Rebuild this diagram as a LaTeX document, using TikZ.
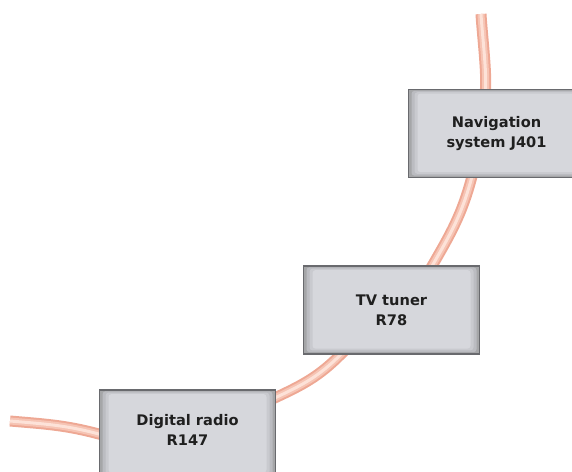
\documentclass[tikz,border=0pt]{standalone}
\usepackage{fontspec}
\setmainfont{DejaVu Sans}
\usetikzlibrary{positioning, calc, backgrounds}

\definecolor{cableout}{RGB}{238,168,148}
\definecolor{cablemid}{RGB}{246,196,180}
\definecolor{cablecore}{RGB}{253,226,216}
\definecolor{boxrim}{RGB}{105,106,110}
\definecolor{boxface}{RGB}{214,215,220}

\begin{document}
\begin{tikzpicture}[x=1pt, y=1pt,
        unit/.style={draw=boxrim, line width=1.5pt, fill=boxrim!60, minimum width=176pt, minimum height=88pt,
            inner sep=0pt, align=center, text=black!88, font=\fontsize{14.6}{20}\selectfont\bfseries,
            path picture={\foreach \d/\m in {3/75, 6/88, 9/100}
                \fill[boxface!\m!boxrim, rounded corners=3pt]
                    ([shift={(\d,0.6*\d)}]path picture bounding box.south west) rectangle
                    ([shift={(-\d,-0.45*\d)}]path picture bounding box.north east);}}]
        \useasboundingbox (0,0) rectangle (572,471);
        \node[unit, text depth=8pt] (radio) at (187.5,37) {Digital radio\\R147};
        \node[unit, above right=34.5pt and 26.5pt of radio] (tv) {TV tuner\\R78};
        \node[unit, above=87pt of tv, xshift=105pt] (nav) {Navigation\\system J401};
        \coordinate (cabtop) at (481,457);
        \coordinate (cabend) at (10,50);
        \begin{scope}[on background layer]
        \foreach \w/\c in {11/cableout, 7/cablemid, 3/cablecore}
            \draw[line width=\w pt, \c] (cabtop) to[out=-87, in=86, looseness=0.6] ([xshift=-11pt]nav.north)
                to[out=-94, in=75] ([xshift=-25pt]nav.south)
                to[out=-105, in=60] ([xshift=41pt]tv.north)
                to[out=-120, in=45] ([xshift=-51pt]tv.south)
                to[out=-135, in=25] ([yshift=-8pt]radio.north east)
                to[out=-155, in=-15] (radio.west)
                to[out=165, in=-5] (cabend);
        \end{scope}
    \end{tikzpicture}
\end{document}
